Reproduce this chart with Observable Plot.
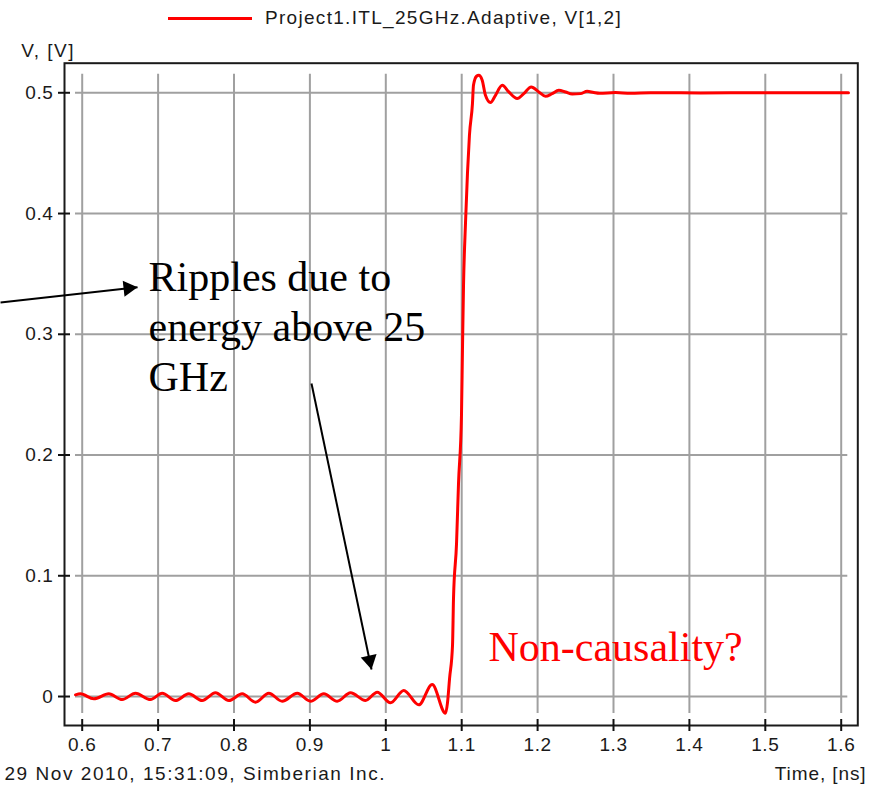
<!DOCTYPE html>
<html>
<head>
<meta charset="utf-8">
<script src="https://cdn.jsdelivr.net/npm/d3@7"></script>
<script src="https://cdn.jsdelivr.net/npm/@observablehq/plot@0.6"></script>
<style>
  body { margin: 0; background: #fff; }
  #wrap { width: 876px; height: 787px; position: relative; background: #fff; }
  #legend { position: relative; height: 36px; font-family: "Liberation Sans", Arial, sans-serif; font-size: 19px; color: #1a1a1a; }
  #legend .sw { position: absolute; left: 168px; top: 16.5px; width: 84px; height: 3px; background: #ff0000; }
  #legend .lb { position: absolute; left: 265px; top: 7px; line-height: 22px; white-space: nowrap; letter-spacing: 1.3px; }
  svg { display: block; }
</style>
</head>
<body>
<div id="wrap">
  <div id="legend"><div class="sw"></div><div class="lb" id="lbtext"></div></div>
  <div id="chart"></div>
</div>
<script>
// ---- data ----
const seriesName = "Project1.ITL_25GHz.Adaptive, V[1,2]";
const time = [
  0.5912, 0.5978, 0.6153, 0.6350, 0.6527, 0.6702, 0.6900, 0.7054, 0.7229, 0.7404,
  0.7581, 0.7756, 0.7932, 0.8108, 0.8283, 0.8459, 0.8635, 0.8833, 0.9008, 0.9183,
  0.9360, 0.9535, 0.9733, 0.9887, 1.0062, 1.0237, 1.0435, 1.0611, 1.0787, 1.0813,
  1.0840, 1.0879, 1.0892, 1.0932, 1.0958, 1.0997, 1.1010, 1.1024, 1.1050, 1.1076,
  1.1102, 1.1142, 1.1155, 1.1195, 1.1225, 1.1270, 1.1313, 1.1379, 1.1445, 1.1534,
  1.1621, 1.1731, 1.1818, 1.1916, 1.2016, 1.2104, 1.2192, 1.2279, 1.2368, 1.2456,
  1.2565, 1.2653, 1.2740, 1.2816, 1.3026, 1.3224, 1.3487, 1.4146, 1.4936, 1.6096
];
const volts = [
  0.0014, 0.0022, -0.0019, 0.0022, -0.0025, 0.0027, -0.0025, 0.0027, -0.0033, 0.0022,
  -0.0033, 0.0031, -0.0033, 0.0022, -0.0047, 0.0027, -0.0039, 0.0027, -0.0039, 0.0022,
  -0.0039, 0.0031, -0.0033, 0.0036, -0.0052, 0.0050, -0.0069, 0.0099, -0.0139, -0.0050,
  0.0149, 0.0423, 0.0812, 0.1268, 0.1765, 0.2328, 0.2867, 0.3405, 0.3919, 0.4333,
  0.4648, 0.4913, 0.5062, 0.5137, 0.5145, 0.5104, 0.4979, 0.4919, 0.4979, 0.5062,
  0.5007, 0.4952, 0.4993, 0.5048, 0.5007, 0.4971, 0.4993, 0.5021, 0.5007, 0.4990,
  0.4993, 0.5012, 0.5002, 0.4996, 0.5002, 0.4996, 0.5001, 0.4999, 0.5000, 0.5000
];
const xTicks = [0.6, 0.7, 0.8, 0.9, 1.0, 1.1, 1.2, 1.3, 1.4, 1.5, 1.6];
const xTickLabels = ["0.6", "0.7", "0.8", "0.9", "1", "1.1", "1.2", "1.3", "1.4", "1.5", "1.6"];
const yTicks = [0, 0.1, 0.2, 0.3, 0.4, 0.5];
const yTickLabels = ["0", "0.1", "0.2", "0.3", "0.4", "0.5"];
const xAxisTitle = "Time, [ns]";
const yAxisTitle = "V, [V]";
const footerText = "29 Nov 2010, 15:31:09, Simberian Inc.";
const noteTexts = ["Ripples due to\nenergy above 25\nGHz", "Non-causality?"];
const noteT = [0.6874, 1.1353];
const noteV = [0.3652, 0.0587];
const noteColors = ["#000000", "#ff0000"];
const arrowStartT = [0.4924, 0.9021];
const arrowStartV = [0.3264, 0.2593];
const arrowEndT = [0.6729, 0.9812];
const arrowEndV = [0.3389, 0.0224];

// ---- build ----
document.getElementById("lbtext").textContent = seriesName;

const W = 876, H = 751;
const mL = 64, mR = 876 - 857.3, mT = 62.7 - 36, mB = 787 - 725;
const xDomain = [0.57668, 1.62187];
const yDomain = [-0.0240, 0.5245];

const data = time.map((t, i) => ({t, v: volts[i]}));
const notes = noteTexts.map((text, i) => ({text, t: noteT[i], v: noteV[i], color: noteColors[i]}));
const arrows = arrowStartT.map((t1, i) => ({t1, v1: arrowStartV[i], t2: arrowEndT[i], v2: arrowEndV[i]}));

const xs = Plot.scale({x: {domain: xDomain, range: [mL, W - mR]}});
const ys = Plot.scale({y: {domain: yDomain, range: [H - mB, mT]}});
const headR = 6;
const tipOffset = 2 * Math.sqrt((Math.PI * headR * headR) / (3 * Math.sqrt(3)));
const heads = arrows.map(a => {
  const x1 = xs.apply(a.t1), y1 = ys.apply(a.v1), x2 = xs.apply(a.t2), y2 = ys.apply(a.v2);
  const ang = Math.atan2(y2 - y1, x2 - x1);
  const cx = x2 - Math.cos(ang) * tipOffset, cy = y2 - Math.sin(ang) * tipOffset;
  return {t: xs.invert(cx), v: ys.invert(cy), rot: ang * 180 / Math.PI + 90};
});

const sans = "Liberation Sans, Arial, sans-serif";
const serif = "Liberation Serif, Times New Roman, serif";

const chart = Plot.plot({
  width: W,
  height: H,
  marginLeft: mL,
  marginRight: mR,
  marginTop: mT,
  marginBottom: mB,
  style: {background: "#fff", overflow: "visible", fontFamily: sans},
  x: {domain: xDomain, label: null},
  y: {domain: yDomain, label: null},
  marks: [
    Plot.gridX(xTicks, {stroke: "#a0a0a0", strokeOpacity: 1, strokeWidth: 2, insetTop: 11, insetBottom: 12}),
    Plot.gridY(yTicks, {stroke: "#a0a0a0", strokeOpacity: 1, strokeWidth: 2, insetLeft: 11, insetRight: 10}),
    Plot.frame({stroke: "#1a1a1a", strokeWidth: 2}),
    Plot.axisX(xTicks, {tickSize: 12, dy: -6, text: null, stroke: "#111", strokeWidth: 2, label: null}),
    Plot.axisY(yTicks, {tickSize: 12, dx: 6, text: null, stroke: "#111", strokeWidth: 2, label: null}),
    Plot.axisX(xTicks, {tickSize: 0, tickPadding: 12, tickFormat: d => xTickLabels[xTicks.indexOf(d)], fontSize: 19, fill: "#1a1a1a", label: null}),
    Plot.axisY(yTicks, {tickSize: 0, tickPadding: 11, tickFormat: d => yTickLabels[yTicks.indexOf(d)], fontSize: 19, fill: "#1a1a1a", label: null}),
    Plot.text([yAxisTitle], {frameAnchor: "top-left", text: d => d, dx: -43.3, dy: -12.7, textAnchor: "start", lineAnchor: "middle", fontSize: 19, fill: "#1a1a1a"}),
    Plot.text([xAxisTitle], {frameAnchor: "bottom-right", text: d => d, dx: 8.7, dy: 48, textAnchor: "end", lineAnchor: "middle", fontSize: 19, fill: "#1a1a1a"}),
    Plot.text([footerText], {frameAnchor: "bottom-left", text: d => d, dx: -60, dy: 48, textAnchor: "start", lineAnchor: "middle", fontSize: 19, fill: "#1a1a1a"}),
    Plot.line(data, {x: "t", y: "v", stroke: "#ff0000", strokeWidth: 3, curve: "monotone-x"}),
    Plot.text(notes, {x: "t", y: "v", text: "text", fill: "color", fontFamily: serif, fontSize: 42, textAnchor: "start", lineAnchor: "top", lineHeight: 1.19}),
    Plot.link(arrows, {x1: "t1", y1: "v1", x2: "t2", y2: "v2", stroke: "#000", strokeWidth: 2}),
    Plot.dot(heads, {x: "t", y: "v", symbol: "triangle", r: headR, fill: "#000", stroke: null, rotate: "rot"})
  ]
});
d3.select(chart).selectAll("g[aria-label='x-axis tick label'], g[aria-label='y-axis tick label']").attr("letter-spacing", "0.6px");
const spacing = {[footerText]: "1.55px", [yAxisTitle]: "1.5px", [xAxisTitle]: "0.9px"};
d3.select(chart).selectAll("text").each(function () {
  const s = spacing[this.textContent];
  if (s) this.setAttribute("letter-spacing", s);
});
document.getElementById("chart").appendChild(chart);
</script>
</body>
</html>
